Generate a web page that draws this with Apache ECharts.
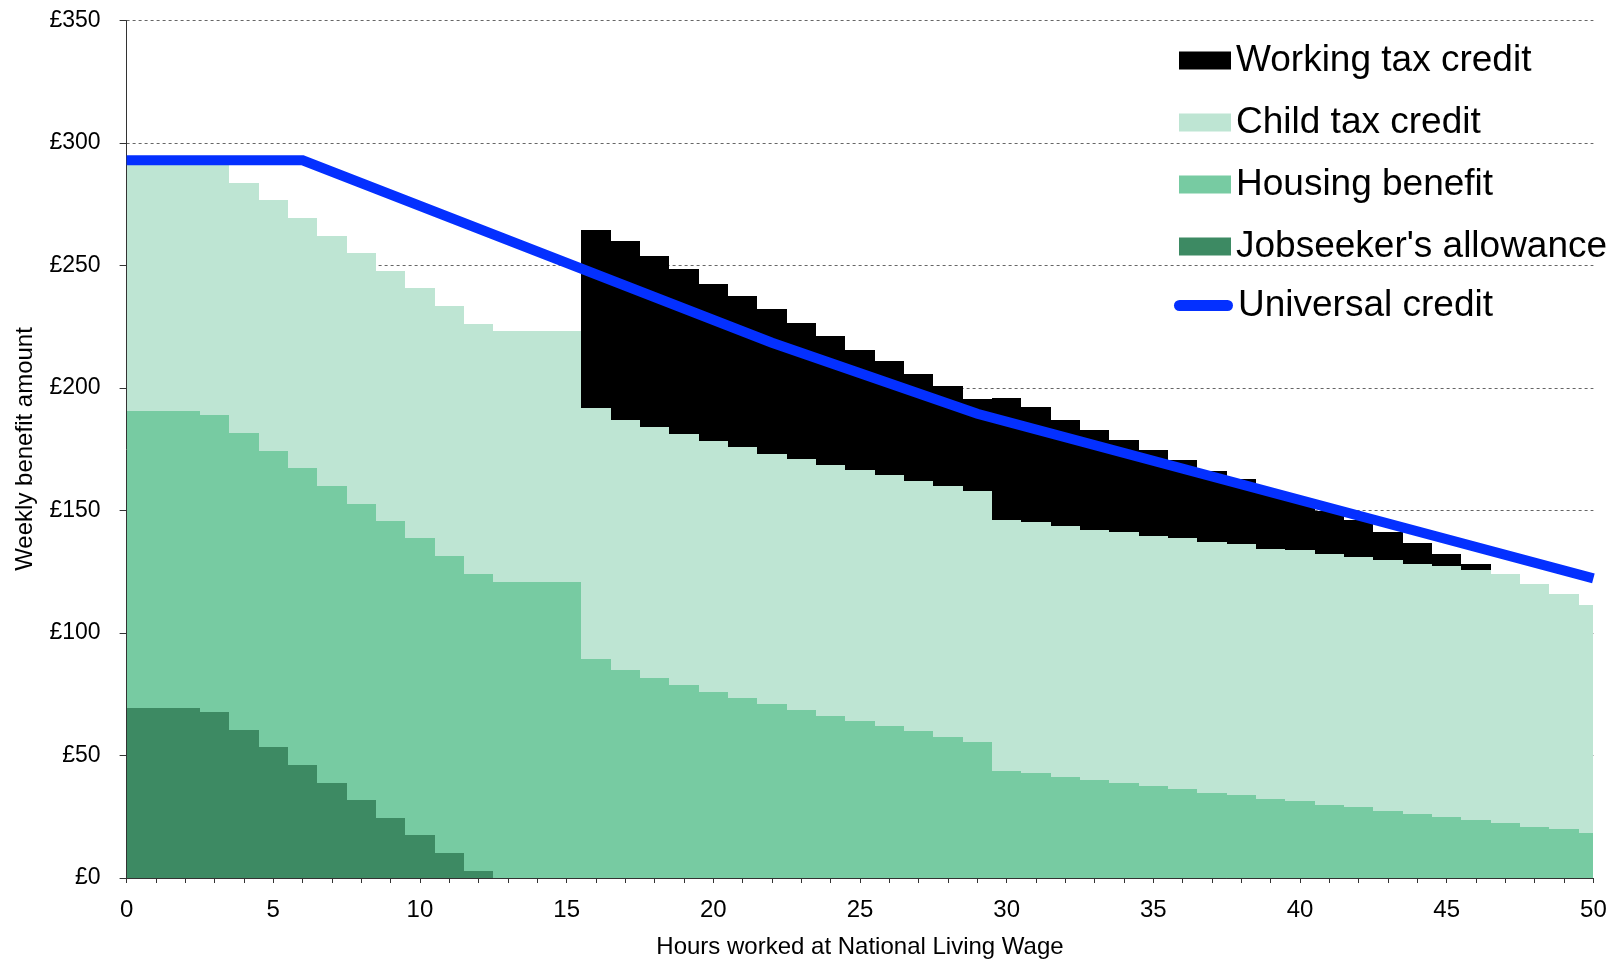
<!DOCTYPE html>
<html>
<head>
<meta charset="utf-8">
<script src="https://cdn.jsdelivr.net/npm/echarts@6/dist/echarts.min.js"></script>
<style>
html,body{margin:0;padding:0;background:#fff;}
#chart{width:1614px;height:966px;}
</style>
</head>
<body>
<div id="chart"></div>
<script>
// ---- Data ----
var hours = [0,1,2,3,4,5,6,7,8,9,10,11,12,13,14,15,16,17,18,19,20,21,22,23,24,25,26,27,28,29,30,31,32,33,34,35,36,37,38,39,40,41,42,43,44,45,46,47,48,49,50];

var jobseekers = [69.5,69.5,69.5,67.8,60.5,53.5,46.3,38.9,31.7,24.6,17.6,10.3,3.0,
  0,0,0,0,0,0,0,0,0,0,0,0,0,0,0,0,0,0,0,0,0,0,0,0,0,0,0,0,0,0,0,0,0,0,0,0,0,0];

var housing = [121,121,121,121,121,121,121,121,121,121,121,121,121,121,121,121,
  89.4,84.8,81.6,78.8,75.9,73.5,70.9,68.6,66.1,64.1,62.1,59.9,57.6,55.5,
  43.7,42.9,41.2,39.9,38.8,37.4,36.3,34.8,33.9,32.2,31.4,29.8,28.9,27.4,26.0,24.9,23.5,22.5,20.8,20.0,18.4];

var childTax = [102.3,102.3,102.3,102.3,102.3,102.3,102.3,102.3,102.3,102.3,102.3,102.3,102.3,102.3,102.3,102.3,
  102.3,102.3,102.3,102.3,102.3,102.3,102.3,102.3,102.3,102.3,102.3,102.3,102.3,102.3,
  102.3,102.3,102.3,102.3,102.3,102.3,102.3,102.3,102.3,102.3,102.3,102.3,102.3,102.3,102.3,102.3,102.3,
  101.7,99.3,95.9,93.0];

var workingTax = [0,0,0,0,0,0,0,0,0,0,0,0,0,0,0,0,
  72.9,73.0,70.2,67.5,64.4,61.6,59.0,55.6,52.8,49.3,46.6,43.4,41.0,37.8,
  49.8,46.9,43.6,40.7,37.7,34.9,31.9,29.1,26.5,23.4,20.6,17.7,15.1,11.4,8.5,5.0,2.2,
  0,0,0,0];

var ucHours = [0, 6, 22, 29, 50];
var ucValues = [293, 293, 218.5, 189.5, 122.3];

var yTickValues = [0,50,100,150,200,250,300,350];
var yTickLabels = ['£0','£50','£100','£150','£200','£250','£300','£350'];

var seriesNames = ['Working tax credit','Child tax credit','Housing benefit',"Jobseeker's allowance",'Universal credit'];
var colors = {
  wtc:'#000000', ctc:'#BEE5D3', hb:'#77CBA2', jsa:'#3D8A63', uc:'#0430FF'
};

// ---- Build stacked ranges ----
var layers = [jobseekers, housing, childTax, workingTax];
var cum = hours.map(function(){return 0;});
var ranges = layers.map(function(arr){
  return hours.map(function(h,i){
    var lo = cum[i];
    var hi = lo + arr[i];
    cum[i] = hi;
    return [h, lo, hi];
  });
});

var X_MIN = 0, X_MAX = 50;
function renderStep(params, api){
  var h = api.value(0), lo = api.value(1), hi = api.value(2);
  if (!(hi > lo)) return null;
  var x0 = Math.max(h - 0.5, X_MIN), x1 = Math.min(h + 0.5, X_MAX);
  var pTop = api.coord([x0, hi]);
  var pBot = api.coord([x1, lo]);
  var l = Math.round(pTop[0]), r = Math.round(pBot[0]);
  var t = Math.round(pTop[1]), b = Math.round(pBot[1]);
  return {
    type:'rect',
    shape:{x:l, y:t, width:r-l, height:b-t},
    style:{fill: api.visual('color')}
  };
}

function stepSeries(name, data, color, z){
  return {
    name:name, type:'custom', renderItem:renderStep,
    data:data, encode:{x:0, y:[1,2]},
    itemStyle:{color:color}, z:z, silent:true
  };
}

var ucData = ucHours.map(function(h,i){return [h, ucValues[i]];});

var FONT = 'Liberation Sans, Arial, Helvetica, sans-serif';

var chart = echarts.init(document.getElementById('chart'), null, {renderer:'canvas'});
chart.setOption({
  animation:false,
  backgroundColor:'#ffffff',
  textStyle:{fontFamily:FONT, color:'#000'},
  grid:{left:126.6, right:20.6, top:20.6, bottom:88, containLabel:false},
  legend:[{
    orient:'vertical', left:1179, top:42, padding:0,
    itemWidth:52, itemHeight:18, itemGap:25,
    icon:'rect',
    textStyle:{fontSize:37, lineHeight:37, color:'#000', fontFamily:FONT},
    data:[seriesNames[0], seriesNames[1], seriesNames[2], seriesNames[3]],
    selectedMode:false
  },{
    orient:'vertical', left:1174, top:287, padding:0,
    itemWidth:59, itemHeight:12,
    icon:'path://M6,0 L58,0 A6,6 0 0 1 58,12 L6,12 A6,6 0 0 1 6,0 Z',
    textStyle:{fontSize:37, lineHeight:37, color:'#000', fontFamily:FONT},
    data:[seriesNames[4]],
    selectedMode:false
  }],
  xAxis:{
    type:'value', min:X_MIN, max:X_MAX, interval:5,
    axisLine:{show:true, lineStyle:{color:'#333', width:1}},
    axisTick:{show:true, length:5, inside:false, lineStyle:{color:'#333', width:1}},
    minorTick:{show:true, splitNumber:5, length:5, lineStyle:{color:'#333', width:1}},
    axisLabel:{fontSize:24, color:'#000', margin:20, fontFamily:FONT},
    splitLine:{show:false},
    minorSplitLine:{show:false},
    name:'Hours worked at National Living Wage', nameLocation:'middle', nameGap:57,
    nameTextStyle:{fontSize:24, color:'#000', fontFamily:FONT}
  },
  yAxis:{
    type:'value', min:0, max:350, interval:50,
    axisLine:{show:true, lineStyle:{color:'#333', width:1}},
    axisTick:{show:true, length:7, inside:false, lineStyle:{color:'#333', width:1}},
    axisLabel:{fontSize:23, color:'#000', margin:26, fontFamily:FONT,
      formatter:function(v){ var i = yTickValues.indexOf(v); return i>=0 ? yTickLabels[i] : ''; }},
    splitLine:{show:true, lineStyle:{color:'#666', width:1, type:[3,3]}}
  },
  graphic:[{
    type:'text', x:25, y:449, rotation:Math.PI/2,
    style:{text:'Weekly benefit amount', fontSize:24, fontFamily:FONT, fill:'#000',
      align:'center', verticalAlign:'middle'}
  }],
  series:[
    stepSeries(seriesNames[3], ranges[0], colors.jsa, 2),
    stepSeries(seriesNames[2], ranges[1], colors.hb, 2),
    stepSeries(seriesNames[1], ranges[2], colors.ctc, 2),
    stepSeries(seriesNames[0], ranges[3], colors.wtc, 2),
    {
      name:seriesNames[4], type:'line', data:ucData,
      showSymbol:false, symbol:'none', z:5, silent:true,
      lineStyle:{color:colors.uc, width:10, cap:'butt', join:'miter'},
      itemStyle:{color:colors.uc}
    }
  ]
});
</script>
</body>
</html>
